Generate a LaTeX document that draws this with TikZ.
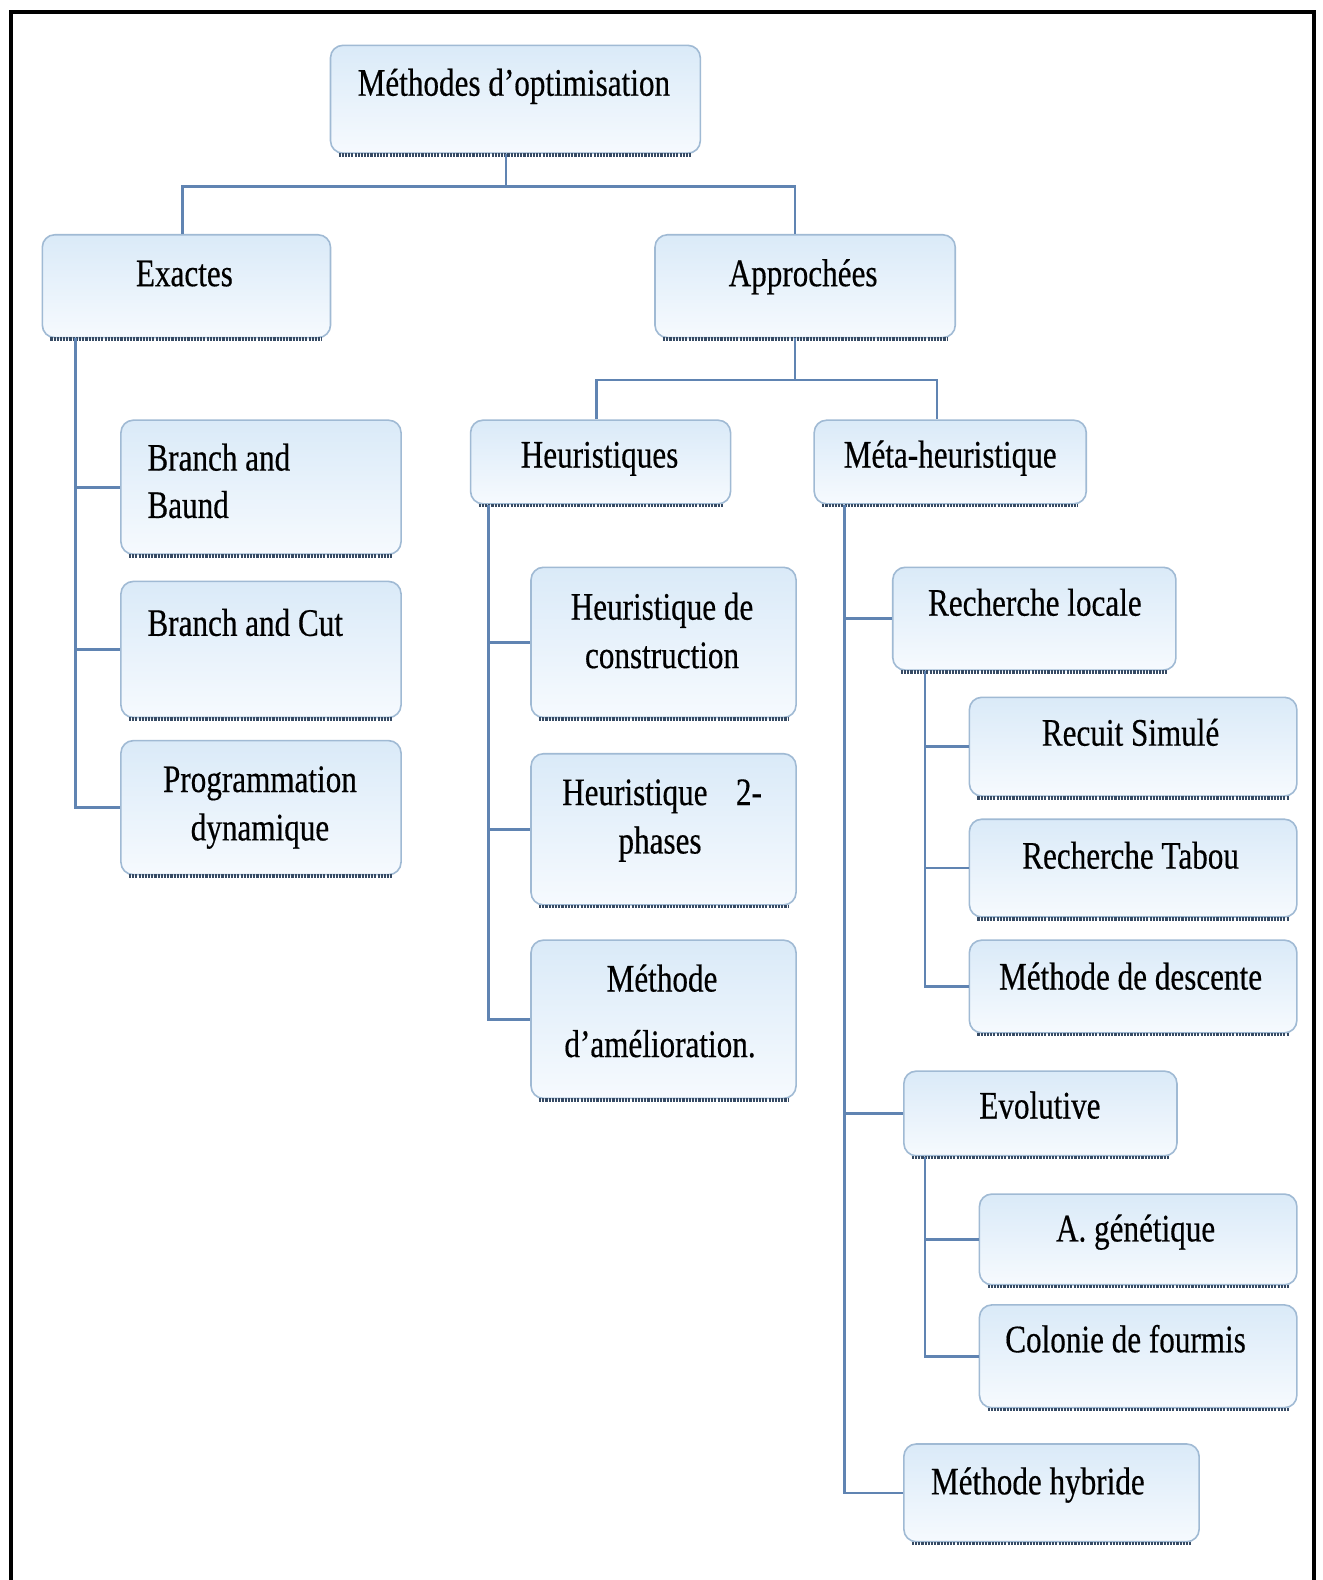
\documentclass[tikz,border=0pt]{standalone}
\usepackage{fontspec}
\setmainfont{Liberation Serif}[FakeStretch=0.8,FakeBold=0.4]
\usetikzlibrary{fit,calc}
\definecolor{conncol}{RGB}{96,132,178}
\definecolor{boxdraw}{RGB}{160,186,212}
\definecolor{boxtop}{RGB}{218,234,248}
\definecolor{boxbot}{RGB}{246,250,254}
\definecolor{shadowcol}{RGB}{55,75,100}
\newcommand\boite[5]{%
  \node[box, fit={(#2,#3) (#4,#5)}] (#1) {};
  \draw[shadowline] ([xshift=5pt,yshift=-0.5pt]#1.south west) -- ([xshift=-5pt,yshift=-0.5pt]#1.south east);}
\begin{document}
\begin{tikzpicture}[x=0.02cm,y=-0.02cm,
  box/.style={draw=boxdraw, line width=0.9pt, rounded corners=7pt, top color=boxtop, bottom color=boxbot, inner sep=0pt},
  shadowline/.style={draw=shadowcol, line width=2.1pt, dash pattern=on 1.2pt off 0.6pt},
  conn/.style={draw=conncol, line width=1.5pt},
  lbl/.style={inner sep=0pt, anchor=base, font=\fontsize{22pt}{27pt}\selectfont},
  lbll/.style={lbl, anchor=base west}]
\useasboundingbox (0,0) rectangle (1312,1568);
\fill[white] (0,0) rectangle (1312,1568);
\draw[line width=2.3pt] (11,1568) -- (11,12) -- (1304,12) -- (1304,1568);

% boxes
\boite{top}{328}{45}{695}{152}
\boite{ex}{42}{233}{328}{335}
\boite{ap}{650}{233}{948}{335}
\boite{bb}{120}{417}{398}{550}
\boite{bc}{120}{577}{398}{712}
\boite{pd}{120}{735}{398}{868}
\boite{he}{467}{417}{725}{500}
\boite{mh}{808}{417}{1078}{500}
\boite{hc}{527}{563}{790}{712}
\boite{h2}{527}{748}{790}{898}
\boite{ma}{527}{933}{790}{1090}
\boite{rl}{886}{563}{1167}{665}
\boite{rs}{962}{692}{1287}{790}
\boite{rt}{962}{813}{1287}{910}
\boite{md}{962}{933}{1287}{1025}
\boite{ev}{897}{1063}{1168}{1147}
\boite{ag}{972}{1185}{1287}{1275}
\boite{cf}{972}{1295}{1287}{1397}
\boite{hy}{897}{1433}{1190}{1530}

% labels
\node[lbl] (ttop) at (510,95) {Méthodes d’optimisation};
\node[lbl] (tex) at (183,284) {Exactes};
\node[lbl] (tap) at (797,284) {Approchées};
\node[lbll] (tbb1) at (146,467) {Branch and};
\node[lbll] (tbb2) at (146,514) {Baund};
\node[lbll] (tbc) at (146,631) {Branch and Cut};
\node[lbl] (tpd1) at (258,786) {Programmation};
\node[lbl] (tpd2) at (258,834) {dynamique};
\node[lbl] (the) at (595,464) {Heuristiques};
\node[lbl] (tmh) at (943,464) {Méta-heuristique};
\node[lbl] (thc1) at (657,615) {Heuristique de};
\node[lbl] (thc2) at (657,663) {construction};
\node[lbl] (th21) at (657,799) {\makebox[112.8pt][s]{Heuristique\hfill 2-}};
\node[lbl] (th22) at (655,847) {phases};
\node[lbl] (tma1) at (657,984) {Méthode};
\node[lbl] (tma2) at (655,1049) {d’amélioration.};
\node[lbl] (trl) at (1027,611) {Recherche locale};
\node[lbl] (trs) at (1122,740) {Recuit Simulé};
\node[lbl] (trt) at (1122,862) {Recherche Tabou};
\node[lbl] (tmd) at (1122,982) {Méthode de descente};
\node[lbl] (tev) at (1032,1110) {Evolutive};
\node[lbl] (tag) at (1127,1232) {A. génétique};
\node[lbl] (tcf) at (1117,1342) {Colonie de fourmis};
\node[lbl] (thy) at (1030,1483) {Méthode hybride};

% spine coordinates
\coordinate (j1) at (502,185);
\coordinate (j2) at (789,377);
\coordinate (exx) at (181,0);
\coordinate (apx) at (789,0);
\coordinate (hex) at (592,0);
\coordinate (mhx) at (930,0);
\coordinate (sx) at (75,0);
\coordinate (hx) at (485,0);
\coordinate (mx) at (838,0);
\coordinate (rx) at (918,0);

% connectors
\draw[conn] (top.south -| j1) -- (j1);
\draw[conn] (ex.north -| exx) |- (j1) -| (ap.north -| apx);
\draw[conn] (ex.south -| sx) |- (pd.west);
\draw[conn] (sx |- bb.west) -- (bb.west);
\draw[conn] (sx |- bc.west) -- (bc.west);
\draw[conn] (ap.south -| j2) -- (j2);
\draw[conn] (he.north -| hex) |- (j2) -| (mh.north -| mhx);
\draw[conn] (he.south -| hx) |- (ma.west);
\draw[conn] (hx |- hc.west) -- (hc.west);
\draw[conn] (hx |- h2.west) -- (h2.west);
\draw[conn] (mh.south -| mx) |- (hy.west);
\draw[conn] (mx |- rl.west) -- (rl.west);
\draw[conn] (mx |- ev.west) -- (ev.west);
\draw[conn] (rl.south -| rx) |- (md.west);
\draw[conn] (rx |- rs.west) -- (rs.west);
\draw[conn] (rx |- rt.west) -- (rt.west);
\draw[conn] (ev.south -| rx) |- (cf.west);
\draw[conn] (rx |- ag.west) -- (ag.west);
\end{tikzpicture}
\end{document}
